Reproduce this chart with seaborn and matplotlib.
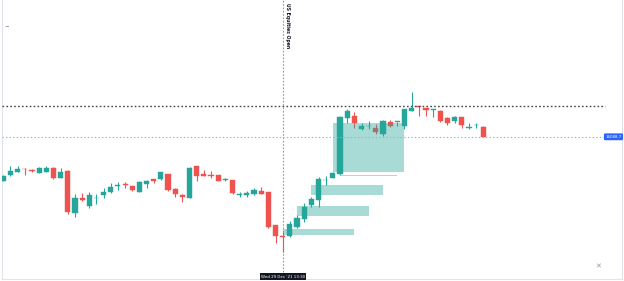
import numpy as np
import pandas as pd
import matplotlib
matplotlib.use("Agg")
import matplotlib.pyplot as plt
import seaborn as sns
from matplotlib.patches import Rectangle

opens = [16000.6, 16012, 16018.6, 16025, 16022.6, 16016.6, 16018.6, 16026.6, 16006.6, 16020.6,
         15935.4, 15966.6, 15950.6, 15965.4, 15972, 15977.4, 15990, 15994, 15990, 15978.6,
         15994.6, 16004, 16003.4, 16013.4, 15983.4, 15972, 15966.6, 16030, 16014, 16012,
         16012, 16002.6, 16002, 15972.8, 15972, 15973.4, 15980, 15977.4, 15912, 15890.6,
         15890, 15908.6, 15923.4, 15951.4, 15962, 16001.4, 16006.6, 16014, 16126.6, 16130.6,
         16104, 16109.4, 16106.6, 16094, 16118.6, 16118, 16110, 16140.6, 16150.6, 16145.4,
         16142.8, 16140.6, 16126.6, 16120, 16128, 16106.8, 16111.4, 16107.4]
highs = [16012, 16030, 16030, 16025.4, 16024, 16028.6, 16030, 16028, 16025.4, 16022,
         15973.4, 15975.4, 15978.6, 15973.4, 15985.4, 15995.4, 15997.4, 15997.4, 15991, 16001,
         16002, 16004.6, 16018, 16014, 15985.4, 15973.4, 16027.4, 16030.6, 16022, 16020,
         16012.6, 16006, 16003, 15978.6, 15979.4, 15985.4, 15987.4, 15979, 15913, 15898,
         15920.6, 15932, 15955.4, 15968.6, 16008.6, 16010, 16018, 16130, 16143.4, 16138.6,
         16116.6, 16120.6, 16113.4, 16122, 16122, 16118.6, 16144, 16178.6, 16151, 16146,
         16143.4, 16141.4, 16128, 16130, 16129, 16116.6, 16116.6, 16110]
lows = [16000, 16011, 16017.4, 16012, 16018.6, 16015.4, 16017.4, 16004.6, 16006, 15934,
        15928.6, 15960, 15945.4, 15954, 15965.4, 15976, 15982, 15986.6, 15981, 15977.4,
        15985.4, 15995.4, 16002.4, 15980.6, 15968.6, 15958.6, 15966, 16000.6, 16010, 16005.4,
        15999.4, 16000.6, 15973.4, 15967.4, 15968.6, 15972, 15973.4, 15906.6, 15875.4, 15858,
        15887.4, 15905.4, 15918.6, 15948.6, 15948.6, 15992, 16005.4, 16012, 16115.4, 16105.4,
        16102, 16103.4, 16093.4, 16090, 16109, 16110, 16103.4, 16140.2, 16130.6, 16130.6,
        16127.4, 16118.6, 16112, 16116.6, 16105.4, 16104, 16105.4, 16088.5]
closes = [16010.6, 16020, 16024, 16023.4, 16020, 16026.6, 16025.4, 16005.4, 16017.4, 15938.6,
          15965.4, 15961.4, 15972, 15966.6, 15978.6, 15987.4, 15992.6, 15991.4, 15982, 15998.6,
          16000.6, 16000.6, 16017.4, 15982, 15973.4, 15968, 16026.6, 16010, 16010.6, 16009.4,
          16000, 16004, 15976.6, 15973.4, 15975.4, 15982, 15974.6, 15908.6, 15890, 15889,
          15914, 15925.4, 15948.6, 15964, 16004, 16002.6, 16016.6, 16127.4, 16140.6, 16115.4,
          16110, 16110, 16098.6, 16120.6, 16110, 16118.6, 16143.4, 16146.6, 16148.6, 16141.4,
          16143.4, 16120, 16116.6, 16128.6, 16111.6, 16107.4, 16112, 16088.7]

# imbalance zones (bar index range, price range)
zone_start = [46, 43, 41, 39, 47.2]
zone_end = [56, 53, 51, 49, 55]
zone_low = [16017.4, 15972.6, 15930, 15891.4, 16009.8]
zone_high = [16116.6, 15991.4, 15949.4, 15904, 16011.4]

open_bar = 39
open_label = "US Equities Open"
time_label = "Wed 29 Dec '21 13:30"
high_level = 16151
last_price = closes[-1]

df = pd.DataFrame({"open": opens, "high": highs, "low": lows, "close": closes})
df["x"] = np.arange(len(df))
df["up"] = df["close"] >= df["open"]

sns.set_theme(style="white")
plt.rcParams["font.family"] = ["DejaVu Sans"]

fig = plt.figure(figsize=(6.24, 2.81), dpi=100)
ax = fig.add_axes([1.5 / 624, 2 / 281, 620.5 / 624, 279 / 281])

green = "#26a69a"
red = "#ef5350"
colors = np.where(df["up"], green, red)

ax.vlines(df["x"], df["low"], df["high"], colors=colors, linewidth=0.8, zorder=2)
body_bottom = np.minimum(df["open"], df["close"])
body_h = np.maximum(np.abs(df["close"] - df["open"]), 1.2)
ax.bar(df["x"], body_h, bottom=body_bottom, width=0.72, color=colors,
       edgecolor=colors, linewidth=0.3, zorder=3)

for s, e, lo, hi in zip(zone_start, zone_end, zone_low, zone_high):
    ax.add_patch(Rectangle((s, lo), e - s, hi - lo, facecolor=green, alpha=0.4,
                           edgecolor="none", zorder=4))

x_left = -0.25
x_right = 86.36
line_end = 84.0
ax.plot([x_left, line_end], [high_level, high_level], color="#434651",
        linestyle=(0, (1.2, 1.6)), linewidth=1.0, zorder=5)
ax.plot([x_left, line_end], [last_price, last_price], color="#7fb5f5",
        linestyle=(0, (1.2, 2.0)), linewidth=0.8, zorder=5)
ax.axvline(open_bar, ymin=(279 - 272) / 279, ymax=1, color="#9598a1",
           linestyle=(0, (1.5, 1.5)), linewidth=0.8, zorder=1)

ax.annotate(open_label, xy=(open_bar, 1), xycoords=("data", "axes fraction"),
            xytext=(1.6, -2), textcoords="offset points", rotation=270,
            ha="left", va="top", fontsize=3.3, fontweight="bold", color="#131722")

ax.set_xlim(x_left, x_right)
ax.set_ylim(16362 - 2 * 279, 16362)
ax.set_xticks([])
ax.set_yticks([])
for side in ["left", "right", "bottom"]:
    ax.spines[side].set_color("#e0e3eb")
    ax.spines[side].set_linewidth(0.8)
ax.spines["top"].set_visible(False)

fig.text(283 / 624, 1 - 276.5 / 281, time_label, ha="center", va="center",
         fontsize=2.9, color="white",
         bbox=dict(boxstyle="square,pad=0.35", facecolor="#131722", edgecolor="none"))
fig.text(613.5 / 624, 1 - 136.8 / 281, f"{last_price:.1f}", ha="center", va="center",
         fontsize=2.9, color="white",
         bbox=dict(boxstyle="round,pad=0.35,rounding_size=0.3", facecolor="#2962ff", edgecolor="none"))
fig.text(6.5 / 624, 1 - 26 / 281, "\u2212", ha="center", va="center", fontsize=4, color="#787b86")
fig.text(598.5 / 624, 1 - 267 / 281, "\u2715", ha="center", va="center", fontsize=5, color="#9598a1")

fig.savefig("out.png", dpi=100)
